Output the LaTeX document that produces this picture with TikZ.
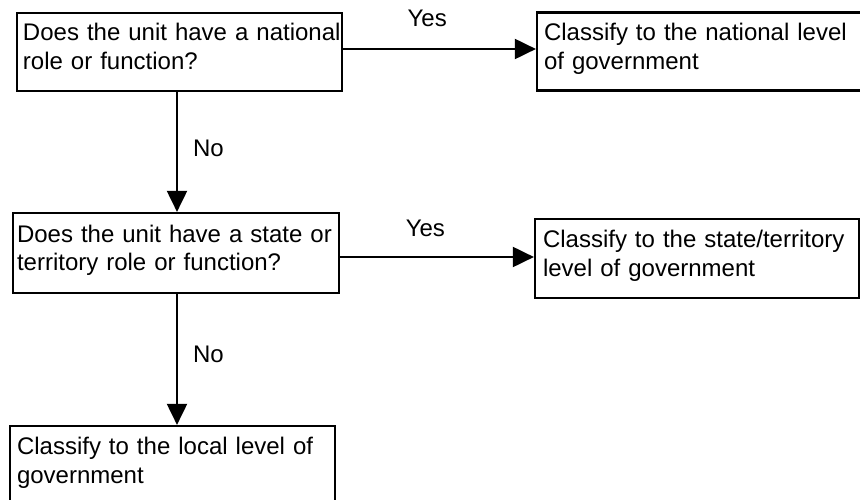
\documentclass[tikz,border=0pt]{standalone}
\usepackage{fontspec}
\setmainfont{Liberation Sans}
\usetikzlibrary{arrows.meta,calc}
\newcommand\topstrut{\rule{0pt}{18pt}}
\newcommand\botstrut{\rule[-11pt]{0pt}{11pt}}
\tikzset{
  box/.style={draw=black, line width=2.2pt, inner ysep=0pt, align=left,
    minimum height=78pt, font=\fontsize{24}{29}\selectfont},
  lbl/.style={inner sep=0pt, font=\fontsize{24}{29}\selectfont},
  arr/.style={line width=2pt, -{Triangle[length=21pt,width=20pt]}}
}
\begin{document}
\begin{tikzpicture}[x=1pt,y=1pt]
\useasboundingbox (0,0) rectangle (860,499);
\fill[white] (0,0) rectangle (860,499);
\clip (0,0) rectangle (860,499);
\node[box, inner xsep=6pt, text width=313pt, minimum width=325pt] (B1) at (179.5,447)
  {\topstrut\mbox{Does the unit have a national}\\\mbox{role or function?}\botstrut};
\node[box, inner xsep=7pt, text width=326pt, minimum width=340pt] (B2) at (707,447.5)
  {\topstrut\mbox{Classify to the national level}\\\mbox{of government}\botstrut};
\node[box, inner xsep=4pt, text width=318pt, minimum width=326pt, minimum height=80pt] (B3) at (176,246)
  {\topstrut\mbox{Does the unit have a state or}\\\mbox{territory role or function?}\botstrut};
\node[box, inner xsep=8pt, text width=308pt, minimum width=324pt, minimum height=79pt] (B4) at (697,240.5)
  {\topstrut\mbox{Classify to the state/territory}\\\mbox{level of government}\botstrut};
\node[box, inner xsep=7pt, text width=311pt, minimum width=325pt] (B5) at (172.5,34)
  {\topstrut\mbox{Classify to the local level of}\\\mbox{government}\botstrut};
\coordinate (a1) at ($(B1.east)+(0,3)$);
\coordinate (a2) at ($(B3.east)+(0,-4)$);
\coordinate (v1) at ($(B1.south)+(-2.5,0)$);
\coordinate (v2) at ($(B3.south)+(1,0)$);
\draw[arr] (a1) -- (a1 -| B2.west) node[lbl, pos=0.436, anchor=base, yshift=22pt] (Y1) {Yes};
\draw[arr] (a2) -- (a2 -| B4.west) node[lbl, pos=0.44, anchor=base, yshift=20pt] (Y2) {Yes};
\draw[arr] (v1) -- (v1 |- B3.north) node[lbl, pos=0.54, anchor=base west, xshift=15pt] (N1) {No};
\draw[arr] (v2) -- (v2 |- B5.north) node[lbl, pos=0.52, anchor=base west, xshift=15pt] (N2) {No};
\end{tikzpicture}
\end{document}
